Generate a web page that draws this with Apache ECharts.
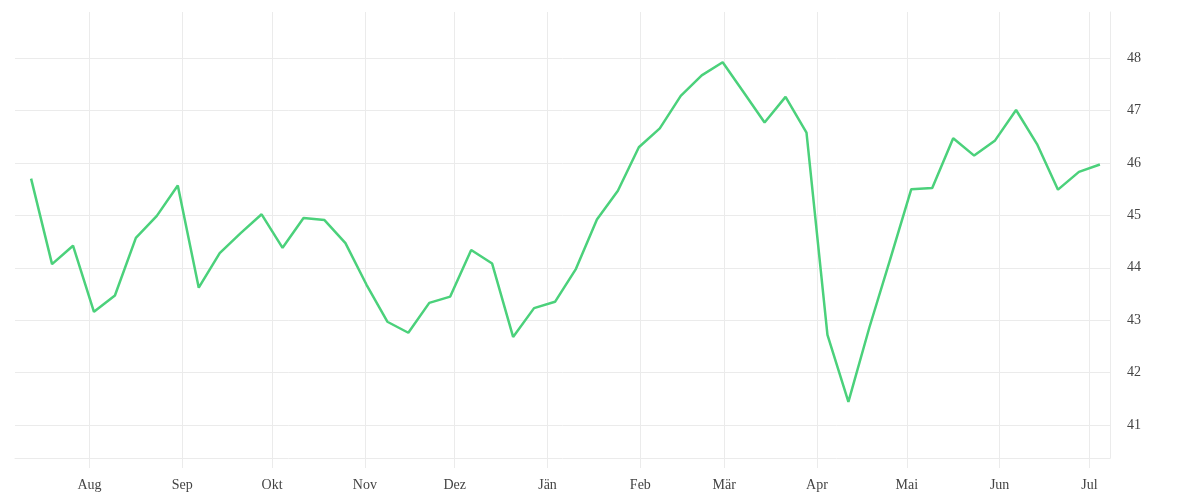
<!DOCTYPE html>
<html>
<head>
<meta charset="utf-8">
<script src="https://cdn.jsdelivr.net/npm/echarts@6/dist/echarts.min.js"></script>
<style>
html,body{margin:0;padding:0;background:#fff;}
#chart{width:1200px;height:500px;}
</style>
</head>
<body>
<div id="chart"></div>
<script>
const dates = [
  '2018-07-12 12:00','2018-07-19 12:00','2018-07-26 12:00','2018-08-02 12:00','2018-08-09 12:00','2018-08-16 12:00','2018-08-23 12:00','2018-08-30 12:00',
  '2018-09-06 12:00','2018-09-13 12:00','2018-09-20 12:00','2018-09-27 12:00','2018-10-04 12:00','2018-10-11 12:00','2018-10-18 12:00','2018-10-25 12:00',
  '2018-11-01 12:00','2018-11-08 12:00','2018-11-15 12:00','2018-11-22 12:00','2018-11-29 12:00','2018-12-06 12:00','2018-12-13 12:00','2018-12-20 12:00',
  '2018-12-27 12:00','2019-01-03 12:00','2019-01-10 12:00','2019-01-17 12:00','2019-01-24 12:00','2019-01-31 12:00','2019-02-07 12:00','2019-02-14 12:00',
  '2019-02-21 12:00','2019-02-28 12:00','2019-03-07 12:00','2019-03-14 12:00','2019-03-21 12:00','2019-03-28 12:00','2019-04-04 12:00','2019-04-11 12:00',
  '2019-04-18 12:00','2019-04-25 12:00','2019-05-02 12:00','2019-05-09 12:00','2019-05-16 12:00','2019-05-23 12:00','2019-05-30 12:00','2019-06-06 12:00',
  '2019-06-13 12:00','2019-06-20 12:00','2019-06-27 12:00','2019-07-04 12:00'
];
const values = [
  45.70, 44.07, 44.42, 43.16, 43.47, 44.57, 44.99, 45.57,
  43.62, 44.28, 44.66, 45.02, 44.38, 44.95, 44.91, 44.47,
  43.68, 42.97, 42.76, 43.33, 43.45, 44.34, 44.08, 42.68,
  43.23, 43.35, 43.98, 44.92, 45.47, 46.30, 46.66, 47.28,
  47.67, 47.92, 47.35, 46.77, 47.26, 46.58, 42.72, 41.44,
  42.86, 44.17, 45.50, 45.52, 46.47, 46.14, 46.43, 47.01,
  46.36, 45.49, 45.83, 45.97
];
const monthNames = ['Jän','Feb','Mär','Apr','Mai','Jun','Jul','Aug','Sep','Okt','Nov','Dez'];
const yTicks = [41, 42, 43, 44, 45, 46, 47, 48];

const chart = echarts.init(document.getElementById('chart'), null, {renderer: 'canvas'});
const gridColor = '#ebebeb';
const fontFam = '"Liberation Serif", "DejaVu Serif", serif';
const DAY = 86400000;

chart.setOption({
  animation: false,
  backgroundColor: '#ffffff',
  grid: {left: 15, right: 90, top: 12, bottom: 42, containLabel: false},
  xAxis: {
    type: 'time',
    min: '2018-07-07 03:00',
    max: '2019-07-07 21:00',
    minInterval: 28 * DAY,
    maxInterval: 31 * DAY,
    axisLine: {show: true, lineStyle: {color: gridColor, width: 1}},
    axisTick: {show: true, length: 10, lineStyle: {color: gridColor}},
    splitLine: {show: true, showMinLine: false, showMaxLine: false, lineStyle: {color: gridColor, width: 1}},
    axisLabel: {
      color: '#444',
      fontFamily: fontFam,
      fontSize: 14,
      margin: 20,
      showMinLabel: false,
      showMaxLabel: false,
      formatter: function (v) { return monthNames[new Date(v).getMonth()]; }
    }
  },
  yAxis: {
    type: 'value',
    position: 'right',
    min: 40.37,
    max: 48.88,
    splitNumber: 8,
    axisLine: {show: true, lineStyle: {color: gridColor}},
    axisTick: {show: false},
    splitLine: {show: true, showMinLine: false, showMaxLine: false, lineStyle: {color: gridColor, width: 1}},
    axisLabel: {
      color: '#444',
      fontFamily: fontFam,
      fontSize: 14,
      margin: 17,
      showMinLabel: false,
      showMaxLabel: false,
      formatter: function (v) { return yTicks.indexOf(v) >= 0 ? String(v) : ''; }
    }
  },
  series: [{
    type: 'line',
    data: dates.map((d, i) => [d, values[i]]),
    showSymbol: false,
    symbol: 'none',
    lineStyle: {color: '#4bd17b', width: 2.5},
    itemStyle: {color: '#4bd17b'}
  }]
});
</script>
</body>
</html>
